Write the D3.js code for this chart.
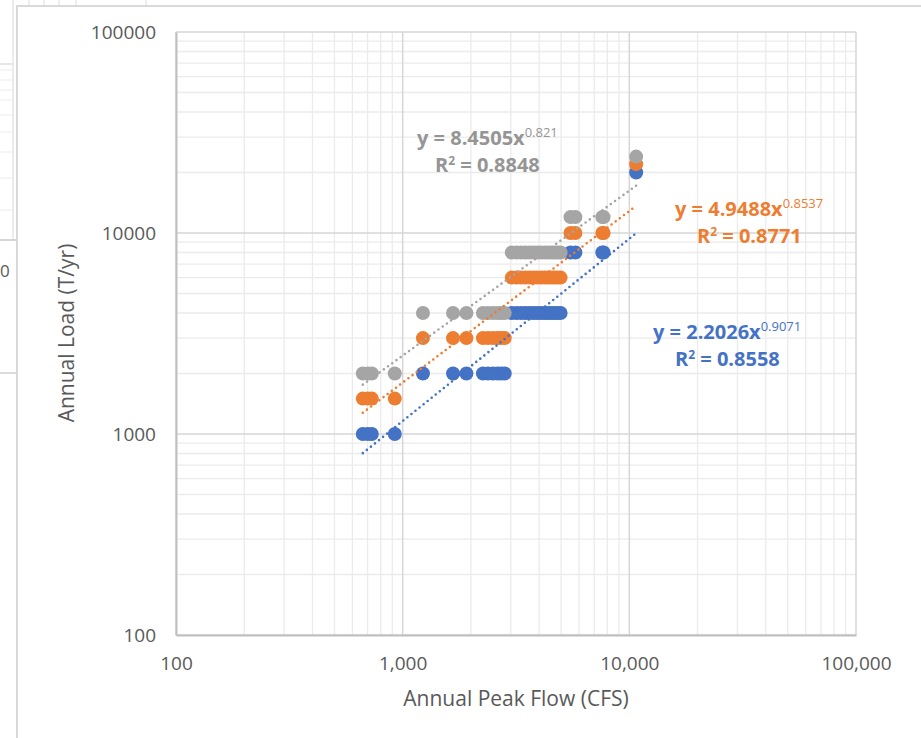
<!DOCTYPE html>
<html>
<head>
<meta charset="utf-8">
<script src="https://cdn.jsdelivr.net/npm/d3@7/dist/d3.min.js"></script>
<style>
  html, body { margin: 0; padding: 0; background: #ffffff; }
  svg { display: block; }
  text { font-family: "Open Sans", "Noto Sans", sans-serif; }
</style>
</head>
<body>
<svg id="chart" width="921" height="738"></svg>
<script>
// Annual peak flow (CFS) for each year on record
const peakFlow = [667, 702, 731, 923, 1229, 1668, 1911,
  2260, 2380, 2500, 2620, 2720, 2820,
  3030, 3180, 3330, 3480, 3630, 3780, 3930, 4080, 4230, 4380, 4530, 4680, 4830, 4975,
  5500, 5780, 7600, 7700, 10720];

// Annual load (T/yr) for the three constituents
const loadBlue = [1000, 1000, 1000, 1000, 2000, 2000, 2000,
  2000, 2000, 2000, 2000, 2000, 2000,
  4000, 4000, 4000, 4000, 4000, 4000, 4000, 4000, 4000, 4000, 4000, 4000, 4000, 4000,
  8000, 8000, 8000, 8000, 20000];
const loadOrange = [1500, 1500, 1500, 1500, 3000, 3000, 3000,
  3000, 3000, 3000, 3000, 3000, 3000,
  6000, 6000, 6000, 6000, 6000, 6000, 6000, 6000, 6000, 6000, 6000, 6000, 6000, 6000,
  10000, 10000, 10000, 10000, 22000];
const loadGray = [2000, 2000, 2000, 2000, 4000, 4000, 4000,
  4000, 4000, 4000, 4000, 4000, 4000,
  8000, 8000, 8000, 8000, 8000, 8000, 8000, 8000, 8000, 8000, 8000, 8000, 8000, 8000,
  12000, 12000, 12000, 12000, 24000];

// Power-law trendlines y = a * x^b
const fitCoef = [2.2026, 4.9488, 8.4505];
const fitExp = [0.9071, 0.8537, 0.821];
const fitR2 = ["0.8558", "0.8771", "0.8848"];
const fitCoefText = ["2.2026", "4.9488", "8.4505"];
const fitExpText = ["0.9071", "0.8537", "0.821"];

const seriesColors = ["#4472C4", "#ED7D31", "#A5A5A5"];
const labelColors = ["#4472C4", "#ED7D31", "#959595"];

const xTickValues = [100, 1000, 10000, 100000];
const xTickLabels = ["100", "1,000", "10,000", "100,000"];
const yTickValues = [100, 1000, 10000, 100000];
const yTickLabels = ["100", "1000", "10000", "100000"];

const svg = d3.select("#chart");

// ----- partial sheet content behind the chart frame -----
const bg = svg.append("g");
[64, 70, 80, 90, 100, 115, 132, 152, 178, 210].forEach(y => {
  bg.append("line").attr("x1", 0).attr("x2", 13).attr("y1", y).attr("y2", y)
    .attr("stroke", y === 64 ? "#d0d0d0" : "#ececec").attr("stroke-width", 1);
});
bg.append("line").attr("x1", 13).attr("x2", 13).attr("y1", 0).attr("y2", 240)
  .attr("stroke", "#d9d9d9").attr("stroke-width", 1);
bg.append("line").attr("x1", 0).attr("x2", 17).attr("y1", 240).attr("y2", 240)
  .attr("stroke", "#c8c8c8").attr("stroke-width", 1.5);
bg.append("line").attr("x1", 0).attr("x2", 17).attr("y1", 373).attr("y2", 373)
  .attr("stroke", "#d0d0d0").attr("stroke-width", 1.5);
bg.append("text").attr("x", 0).attr("y", 277).attr("text-anchor", "start")
  .attr("font-size", 17).attr("fill", "#595959").text("0");
[29, 44, 59, 76, 146].forEach(x => {
  bg.append("line").attr("x1", x).attr("x2", x).attr("y1", 0).attr("y2", 6)
    .attr("stroke", "#dddddd").attr("stroke-width", 1);
});

// ----- chart frame -----
svg.append("rect").attr("x", 17).attr("y", 6).attr("width", 930).attr("height", 760)
  .attr("fill", "#ffffff").attr("stroke", "#d9d9d9").attr("stroke-width", 2);

// ----- scales -----
const x = d3.scaleLog().domain([100, 100000]).range([176, 856]);
const y = d3.scaleLog().domain([100, 100000]).range([635, 32]);

const isDecade = v => Math.abs(Math.log10(v) - Math.round(Math.log10(v))) < 1e-9;

// gridlines (minor first, then decades)
const grid = svg.append("g");
const xt = x.ticks(30), yt = y.ticks(30);
xt.filter(v => !isDecade(v)).forEach(v => {
  grid.append("line").attr("x1", x(v)).attr("x2", x(v)).attr("y1", 32).attr("y2", 635)
    .attr("stroke", "#ebebeb").attr("stroke-width", 1.3);
});
yt.filter(v => !isDecade(v)).forEach(v => {
  grid.append("line").attr("x1", 176).attr("x2", 856).attr("y1", y(v)).attr("y2", y(v))
    .attr("stroke", "#ebebeb").attr("stroke-width", 1.3);
});
xt.filter(isDecade).forEach(v => {
  grid.append("line").attr("x1", x(v)).attr("x2", x(v)).attr("y1", 32).attr("y2", 635)
    .attr("stroke", "#d6d6d6").attr("stroke-width", 1.5);
});
yt.filter(isDecade).forEach(v => {
  grid.append("line").attr("x1", 176).attr("x2", 856).attr("y1", y(v)).attr("y2", y(v))
    .attr("stroke", "#d6d6d6").attr("stroke-width", 1.5);
});

// axes
const xAxis = d3.axisBottom(x).tickValues(xTickValues)
  .tickFormat((d, i) => xTickLabels[i]).tickSize(0).tickPadding(22);
const yAxis = d3.axisLeft(y).tickValues(yTickValues)
  .tickFormat((d, i) => yTickLabels[i]).tickSize(0).tickPadding(20);

const gx = svg.append("g").attr("transform", "translate(0,635)").call(xAxis);
const gy = svg.append("g").attr("transform", "translate(176,0)").call(yAxis);
[gx, gy].forEach(g => {
  g.select(".domain").attr("stroke", "#bfbfbf").attr("stroke-width", 2);
  g.selectAll("text").attr("font-size", 19).attr("fill", "#595959")
    .attr("font-family", "'Open Sans', sans-serif");
});

// axis titles
svg.append("text").attr("x", 516).attr("y", 706).attr("text-anchor", "middle")
  .attr("font-size", 21).attr("fill", "#595959").text("Annual Peak Flow (CFS)");
svg.append("text").attr("transform", "translate(74,333) rotate(-90)")
  .attr("text-anchor", "middle").attr("font-size", 21).attr("fill", "#595959")
  .text("Annual Load (T/yr)");

// markers: blue, orange, gray in series order
const loads = [loadBlue, loadOrange, loadGray];
const marks = svg.append("g");
loads.forEach((ld, s) => {
  marks.append("g").selectAll("circle")
    .data(peakFlow.map((f, i) => [f, ld[i]]))
    .join("circle")
    .attr("cx", d => x(d[0]))
    .attr("cy", d => y(d[1]))
    .attr("r", 7)
    .attr("fill", seriesColors[s]);
});

// dotted power trendlines across the observed flow range
const fMin = d3.min(peakFlow), fMax = d3.max(peakFlow);
const flowSteps = d3.range(0, 41).map(k => fMin * Math.pow(fMax / fMin, k / 40));
const line = d3.line().x(d => x(d[0])).y(d => y(d[1]));
fitCoef.forEach((a, s) => {
  svg.append("path")
    .attr("d", line(flowSteps.map(f => [f, a * Math.pow(f, fitExp[s])])))
    .attr("fill", "none").attr("stroke", seriesColors[s])
    .attr("stroke-width", 2.6).attr("stroke-linecap", "round")
    .attr("stroke-dasharray", "0 5.2");
});

// equation labels
const labelPos = [
  { ex: 653, ey: 339, rx: 675, ry: 366 },
  { ex: 675, ey: 216, rx: 697, ry: 243 },
  { ex: 417, ey: 145, rx: 435, ry: 172 }
];
labelPos.forEach((p, s) => {
  const t = svg.append("text").attr("x", p.ex).attr("y", p.ey)
    .attr("font-size", 20).attr("font-weight", 700).attr("fill", labelColors[s])
    .attr("font-family", "'Liberation Sans', Arial, sans-serif");
  t.append("tspan").text("y = " + fitCoefText[s] + "x");
  t.append("tspan").attr("dy", -8).attr("font-size", 13).attr("font-weight", 400)
    .text(fitExpText[s]);
  const r = svg.append("text").attr("x", p.rx).attr("y", p.ry)
    .attr("font-size", 20).attr("font-weight", 700).attr("fill", labelColors[s])
    .attr("font-family", "'Liberation Sans', Arial, sans-serif");
  r.append("tspan").text("R");
  r.append("tspan").attr("dy", -7).attr("font-size", 12).text("2");
  r.append("tspan").attr("dy", 7).text(" = " + fitR2[s]);
});
</script>
</body>
</html>
